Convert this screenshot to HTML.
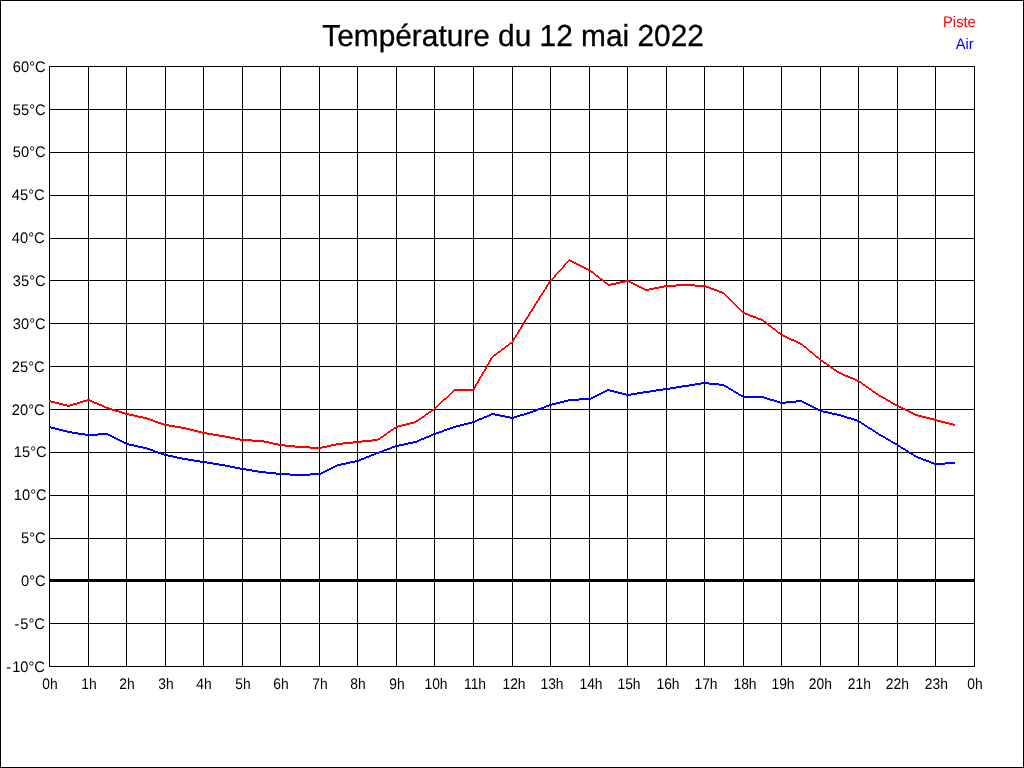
<!DOCTYPE html><html><head><meta charset="utf-8"><title>Température</title><style>html,body{margin:0;padding:0;background:#fff}svg{display:block}text{font-family:"Liberation Sans",Arial,sans-serif;text-rendering:geometricPrecision}</style></head><body>
<svg width="1024" height="768" viewBox="0 0 1024 768">
<rect x="0" y="0" width="1024" height="768" fill="#fff"/>
<g shape-rendering="crispEdges" fill="#000">
<rect x="0" y="0" width="1024" height="1"/><rect x="0" y="767" width="1024" height="1"/><rect x="0" y="0" width="1" height="768"/><rect x="1023" y="0" width="1" height="768"/>
<rect x="49" y="66" width="1" height="601"/>
<rect x="88" y="66" width="1" height="601"/>
<rect x="126" y="66" width="1" height="601"/>
<rect x="165" y="66" width="1" height="601"/>
<rect x="203" y="66" width="1" height="601"/>
<rect x="242" y="66" width="1" height="601"/>
<rect x="280" y="66" width="1" height="601"/>
<rect x="319" y="66" width="1" height="601"/>
<rect x="357" y="66" width="1" height="601"/>
<rect x="396" y="66" width="1" height="601"/>
<rect x="434" y="66" width="1" height="601"/>
<rect x="473" y="66" width="1" height="601"/>
<rect x="512" y="66" width="1" height="601"/>
<rect x="550" y="66" width="1" height="601"/>
<rect x="589" y="66" width="1" height="601"/>
<rect x="627" y="66" width="1" height="601"/>
<rect x="666" y="66" width="1" height="601"/>
<rect x="704" y="66" width="1" height="601"/>
<rect x="743" y="66" width="1" height="601"/>
<rect x="781" y="66" width="1" height="601"/>
<rect x="820" y="66" width="1" height="601"/>
<rect x="858" y="66" width="1" height="601"/>
<rect x="897" y="66" width="1" height="601"/>
<rect x="935" y="66" width="1" height="601"/>
<rect x="974" y="66" width="1" height="601"/>
<rect x="49" y="66" width="926" height="1"/>
<rect x="49" y="109" width="926" height="1"/>
<rect x="49" y="152" width="926" height="1"/>
<rect x="49" y="195" width="926" height="1"/>
<rect x="49" y="238" width="926" height="1"/>
<rect x="49" y="280" width="926" height="1"/>
<rect x="49" y="323" width="926" height="1"/>
<rect x="49" y="366" width="926" height="1"/>
<rect x="49" y="409" width="926" height="1"/>
<rect x="49" y="452" width="926" height="1"/>
<rect x="49" y="495" width="926" height="1"/>
<rect x="49" y="538" width="926" height="1"/>
<rect x="49" y="580" width="926" height="1"/>
<rect x="49" y="623" width="926" height="1"/>
<rect x="49" y="666" width="926" height="1"/>
<rect x="49" y="579" width="926" height="3"/>
</g>
<g shape-rendering="crispEdges">
<path fill="#f00" d="M49 400h2v2h-2zM51 401h4v2h-4zM55 402h4v2h-4zM59 403h4v2h-4zM63 404h4v2h-4zM67 405h3v2h-3zM70 404h3v2h-3zM73 403h4v2h-4zM77 402h3v2h-3zM80 401h3v2h-3zM83 400h4v2h-4zM87 399h3v2h-3zM90 400h2v2h-2zM92 401h2v2h-2zM94 402h3v2h-3zM97 403h2v2h-2zM99 404h3v2h-3zM102 405h2v2h-2zM104 406h2v2h-2zM106 407h3v2h-3zM109 408h3v2h-3zM112 409h3v2h-3zM115 410h4v2h-4zM119 411h3v2h-3zM122 412h3v2h-3zM125 413h4v2h-4zM129 414h5v2h-5zM134 415h4v2h-4zM138 416h5v2h-5zM143 417h4v2h-4zM147 418h3v2h-3zM150 419h3v2h-3zM153 420h2v2h-2zM155 421h3v2h-3zM158 422h3v2h-3zM161 423h3v2h-3zM164 424h5v2h-5zM169 425h6v2h-6zM175 426h6v2h-6zM181 427h5v2h-5zM186 428h4v2h-4zM190 429h4v2h-4zM194 430h4v2h-4zM198 431h4v2h-4zM202 432h5v2h-5zM207 433h6v2h-6zM213 434h6v2h-6zM219 435h6v2h-6zM225 436h5v2h-5zM230 437h5v2h-5zM235 438h5v2h-5zM240 439h12v2h-12zM252 440h12v2h-12zM264 441h5v2h-5zM269 442h4v2h-4zM273 443h5v2h-5zM278 444h7v2h-7zM285 445h10v2h-10zM295 446h15v2h-15zM310 447h12v2h-12zM322 446h5v2h-5zM327 445h4v2h-4zM331 444h5v2h-5zM336 443h7v2h-7zM343 442h10v2h-10zM353 441h9v2h-9zM362 440h10v2h-10zM372 439h6v2h-6zM378 438h2v2h-2zM380 437h1v2h-1zM381 436h2v2h-2zM383 435h1v2h-1zM384 434h2v2h-2zM386 433h1v2h-1zM387 432h1v2h-1zM388 431h2v2h-2zM390 430h1v2h-1zM391 429h2v2h-2zM393 428h1v2h-1zM394 427h2v2h-2zM396 426h2v2h-2zM398 425h4v2h-4zM402 424h4v2h-4zM406 423h4v2h-4zM410 422h4v2h-4zM414 421h2v2h-2zM416 420h2v2h-2zM418 419h1v2h-1zM419 418h2v2h-2zM421 417h1v2h-1zM422 416h2v2h-2zM424 415h1v2h-1zM425 414h1v2h-1zM426 413h2v2h-2zM428 412h1v2h-1zM429 411h2v2h-2zM431 410h1v2h-1zM432 409h2v2h-2zM434 408h1v2h-1zM435 407h1v2h-1zM436 406h1v2h-1zM437 405h1v2h-1zM438 404h1v2h-1zM439 403h1v2h-1zM440 402h1v2h-1zM441 401h1v2h-1zM442 400h1v2h-1zM443 399h1v2h-1zM444 398h2v2h-2zM446 397h1v2h-1zM447 396h1v2h-1zM448 395h1v2h-1zM449 394h1v2h-1zM450 393h1v2h-1zM451 392h1v2h-1zM452 391h1v2h-1zM453 390h1v2h-1zM454 389h19v2h-19zM473 388h1v3h-1zM474 386h1v4h-1zM475 384h1v4h-1zM476 383h1v3h-1zM477 381h1v3h-1zM478 379h1v4h-1zM479 377h1v4h-1zM480 376h1v3h-1zM481 374h1v3h-1zM482 372h1v4h-1zM483 371h1v3h-1zM484 369h1v3h-1zM485 367h1v4h-1zM486 365h1v4h-1zM487 364h1v3h-1zM488 362h1v3h-1zM489 360h1v4h-1zM490 358h1v4h-1zM491 357h1v3h-1zM492 356h1v2h-1zM493 355h1v2h-1zM494 354h2v2h-2zM496 353h1v2h-1zM497 352h1v2h-1zM498 351h2v2h-2zM500 350h1v2h-1zM501 349h1v2h-1zM502 348h2v2h-2zM504 347h1v2h-1zM505 346h1v2h-1zM506 345h2v2h-2zM508 344h1v2h-1zM509 343h1v2h-1zM510 342h2v2h-2zM512 340h1v3h-1zM513 338h1v4h-1zM514 337h1v3h-1zM515 335h1v3h-1zM516 334h1v3h-1zM517 332h1v3h-1zM518 330h1v4h-1zM519 329h1v3h-1zM520 327h1v3h-1zM521 325h1v4h-1zM522 324h1v3h-1zM523 322h1v3h-1zM524 320h1v4h-1zM525 319h1v3h-1zM526 317h1v3h-1zM527 316h1v3h-1zM528 314h1v3h-1zM529 312h1v4h-1zM530 311h1v3h-1zM531 309h1v3h-1zM532 308h1v3h-1zM533 306h1v3h-1zM534 304h1v4h-1zM535 303h1v3h-1zM536 301h1v3h-1zM537 300h1v3h-1zM538 298h1v3h-1zM539 296h1v4h-1zM540 295h1v3h-1zM541 293h1v3h-1zM542 292h1v3h-1zM543 290h1v3h-1zM544 289h1v3h-1zM545 287h1v3h-1zM546 285h1v4h-1zM547 284h1v3h-1zM548 282h1v3h-1zM549 281h1v3h-1zM550 280h1v2h-1zM551 279h1v2h-1zM552 278h1v2h-1zM553 277h1v2h-1zM554 275h1v3h-1zM555 274h1v3h-1zM556 273h1v2h-1zM557 272h1v2h-1zM558 271h1v2h-1zM559 270h1v2h-1zM560 269h1v2h-1zM561 268h1v2h-1zM562 267h1v2h-1zM563 265h1v3h-1zM564 264h1v3h-1zM565 263h1v2h-1zM566 262h1v2h-1zM567 261h1v2h-1zM568 260h1v2h-1zM569 259h1v2h-1zM570 260h2v2h-2zM572 261h2v2h-2zM574 262h2v2h-2zM576 263h2v2h-2zM578 264h2v2h-2zM580 265h2v2h-2zM582 266h2v2h-2zM584 267h2v2h-2zM586 268h2v2h-2zM588 269h2v2h-2zM590 270h1v2h-1zM591 271h2v2h-2zM593 272h1v2h-1zM594 273h1v2h-1zM595 274h1v2h-1zM596 275h2v2h-2zM598 276h1v2h-1zM599 277h1v2h-1zM600 278h2v2h-2zM602 279h1v2h-1zM603 280h1v2h-1zM604 281h1v2h-1zM605 282h2v2h-2zM607 283h1v2h-1zM608 284h3v2h-3zM611 283h5v2h-5zM616 282h4v2h-4zM620 281h5v2h-5zM625 280h4v2h-4zM629 281h2v2h-2zM631 282h2v2h-2zM633 283h2v2h-2zM635 284h2v2h-2zM637 285h2v2h-2zM639 286h2v2h-2zM641 287h2v2h-2zM643 288h2v2h-2zM645 289h4v2h-4zM649 288h5v2h-5zM654 287h5v2h-5zM659 286h5v2h-5zM664 285h12v2h-12zM676 284h19v2h-19zM695 285h11v2h-11zM706 286h3v2h-3zM709 287h2v2h-2zM711 288h3v2h-3zM714 289h3v2h-3zM717 290h2v2h-2zM719 291h3v2h-3zM722 292h2v2h-2zM724 293h1v2h-1zM725 294h1v2h-1zM726 295h1v2h-1zM727 296h1v2h-1zM728 297h1v2h-1zM729 298h1v2h-1zM730 299h1v2h-1zM731 300h1v2h-1zM732 301h1v2h-1zM733 302h1v2h-1zM734 303h1v2h-1zM735 304h1v2h-1zM736 305h1v2h-1zM737 306h1v2h-1zM738 307h1v2h-1zM739 308h1v2h-1zM740 309h1v2h-1zM741 310h1v2h-1zM742 311h1v2h-1zM743 312h2v2h-2zM745 313h3v2h-3zM748 314h2v2h-2zM750 315h3v2h-3zM753 316h3v2h-3zM756 317h2v2h-2zM758 318h3v2h-3zM761 319h2v2h-2zM763 320h1v2h-1zM764 321h2v2h-2zM766 322h1v2h-1zM767 323h1v2h-1zM768 324h1v2h-1zM769 325h2v2h-2zM771 326h1v2h-1zM772 327h1v2h-1zM773 328h2v2h-2zM775 329h1v2h-1zM776 330h1v2h-1zM777 331h1v2h-1zM778 332h2v2h-2zM780 333h1v2h-1zM781 334h2v2h-2zM783 335h2v2h-2zM785 336h2v2h-2zM787 337h2v2h-2zM789 338h2v2h-2zM791 339h3v2h-3zM794 340h2v2h-2zM796 341h2v2h-2zM798 342h2v2h-2zM800 343h2v2h-2zM802 344h1v2h-1zM803 345h1v2h-1zM804 346h2v2h-2zM806 347h1v2h-1zM807 348h1v2h-1zM808 349h1v2h-1zM809 350h1v2h-1zM810 351h2v2h-2zM812 352h1v2h-1zM813 353h1v2h-1zM814 354h1v2h-1zM815 355h1v2h-1zM816 356h2v2h-2zM818 357h1v2h-1zM819 358h1v2h-1zM820 359h1v2h-1zM821 360h2v2h-2zM823 361h1v2h-1zM824 362h2v2h-2zM826 363h1v2h-1zM827 364h2v2h-2zM829 365h1v2h-1zM830 366h1v2h-1zM831 367h2v2h-2zM833 368h1v2h-1zM834 369h2v2h-2zM836 370h1v2h-1zM837 371h2v2h-2zM839 372h2v2h-2zM841 373h2v2h-2zM843 374h2v2h-2zM845 375h3v2h-3zM848 376h2v2h-2zM850 377h3v2h-3zM853 378h2v2h-2zM855 379h2v2h-2zM857 380h2v2h-2zM859 381h2v2h-2zM861 382h1v2h-1zM862 383h1v2h-1zM863 384h2v2h-2zM865 385h1v2h-1zM866 386h2v2h-2zM868 387h1v2h-1zM869 388h2v2h-2zM871 389h1v2h-1zM872 390h1v2h-1zM873 391h2v2h-2zM875 392h1v2h-1zM876 393h2v2h-2zM878 394h1v2h-1zM879 395h2v2h-2zM881 396h2v2h-2zM883 397h2v2h-2zM885 398h1v2h-1zM886 399h2v2h-2zM888 400h2v2h-2zM890 401h1v2h-1zM891 402h2v2h-2zM893 403h2v2h-2zM895 404h2v2h-2zM897 405h2v2h-2zM899 406h2v2h-2zM901 407h2v2h-2zM903 408h2v2h-2zM905 409h2v2h-2zM907 410h2v2h-2zM909 411h2v2h-2zM911 412h2v2h-2zM913 413h2v2h-2zM915 414h3v2h-3zM918 415h4v2h-4zM922 416h4v2h-4zM926 417h4v2h-4zM930 418h4v2h-4zM934 419h3v2h-3zM937 420h4v2h-4zM941 421h4v2h-4zM945 422h4v2h-4zM949 423h4v2h-4zM953 424h2v2h-2z"/>
<path fill="#00f" d="M49 426h2v2h-2zM51 427h4v2h-4zM55 428h4v2h-4zM59 429h4v2h-4zM63 430h4v2h-4zM67 431h5v2h-5zM72 432h6v2h-6zM78 433h7v2h-7zM85 434h13v2h-13zM98 433h10v2h-10zM108 434h2v2h-2zM110 435h2v2h-2zM112 436h2v2h-2zM114 437h2v2h-2zM116 438h2v2h-2zM118 439h2v2h-2zM120 440h2v2h-2zM122 441h2v2h-2zM124 442h2v2h-2zM126 443h3v2h-3zM129 444h5v2h-5zM134 445h4v2h-4zM138 446h5v2h-5zM143 447h4v2h-4zM147 448h3v2h-3zM150 449h3v2h-3zM153 450h2v2h-2zM155 451h3v2h-3zM158 452h3v2h-3zM161 453h3v2h-3zM164 454h4v2h-4zM168 455h5v2h-5zM173 456h4v2h-4zM177 457h5v2h-5zM182 458h6v2h-6zM188 459h6v2h-6zM194 460h6v2h-6zM200 461h7v2h-7zM207 462h6v2h-6zM213 463h6v2h-6zM219 464h6v2h-6zM225 465h5v2h-5zM230 466h5v2h-5zM235 467h5v2h-5zM240 468h6v2h-6zM246 469h6v2h-6zM252 470h6v2h-6zM258 471h8v2h-8zM266 472h10v2h-10zM276 473h14v2h-14zM290 474h20v2h-20zM310 473h11v2h-11zM321 472h2v2h-2zM323 471h2v2h-2zM325 470h2v2h-2zM327 469h2v2h-2zM329 468h2v2h-2zM331 467h2v2h-2zM333 466h2v2h-2zM335 465h2v2h-2zM337 464h4v2h-4zM341 463h5v2h-5zM346 462h4v2h-4zM350 461h5v2h-5zM355 460h4v2h-4zM359 459h2v2h-2zM361 458h3v2h-3zM364 457h2v2h-2zM366 456h3v2h-3zM369 455h2v2h-2zM371 454h3v2h-3zM374 453h2v2h-2zM376 452h3v2h-3zM379 451h3v2h-3zM382 450h2v2h-2zM384 449h3v2h-3zM387 448h3v2h-3zM390 447h2v2h-2zM392 446h3v2h-3zM395 445h4v2h-4zM399 444h5v2h-5zM404 443h4v2h-4zM408 442h5v2h-5zM413 441h4v2h-4zM417 440h2v2h-2zM419 439h2v2h-2zM421 438h3v2h-3zM424 437h2v2h-2zM426 436h3v2h-3zM429 435h2v2h-2zM431 434h2v2h-2zM433 433h3v2h-3zM436 432h3v2h-3zM439 431h3v2h-3zM442 430h2v2h-2zM444 429h3v2h-3zM447 428h3v2h-3zM450 427h3v2h-3zM453 426h3v2h-3zM456 425h4v2h-4zM460 424h4v2h-4zM464 423h4v2h-4zM468 422h4v2h-4zM472 421h3v2h-3zM475 420h2v2h-2zM477 419h2v2h-2zM479 418h3v2h-3zM482 417h2v2h-2zM484 416h3v2h-3zM487 415h2v2h-2zM489 414h2v2h-2zM491 413h4v2h-4zM495 414h5v2h-5zM500 415h5v2h-5zM505 416h5v2h-5zM510 417h4v2h-4zM514 416h3v2h-3zM517 415h3v2h-3zM520 414h4v2h-4zM524 413h3v2h-3zM527 412h3v2h-3zM530 411h3v2h-3zM533 410h3v2h-3zM536 409h2v2h-2zM538 408h3v2h-3zM541 407h3v2h-3zM544 406h2v2h-2zM546 405h3v2h-3zM549 404h3v2h-3zM552 403h4v2h-4zM556 402h4v2h-4zM560 401h4v2h-4zM564 400h4v2h-4zM568 399h11v2h-11zM579 398h12v2h-12zM591 397h2v2h-2zM593 396h2v2h-2zM595 395h2v2h-2zM597 394h2v2h-2zM599 393h2v2h-2zM601 392h2v2h-2zM603 391h2v2h-2zM605 390h2v2h-2zM607 389h3v2h-3zM610 390h4v2h-4zM614 391h4v2h-4zM618 392h4v2h-4zM622 393h4v2h-4zM626 394h5v2h-5zM631 393h6v2h-6zM637 392h6v2h-6zM643 391h7v2h-7zM650 390h6v2h-6zM656 389h7v2h-7zM663 388h7v2h-7zM670 387h6v2h-6zM676 386h6v2h-6zM682 385h7v2h-7zM689 384h6v2h-6zM695 383h6v2h-6zM701 382h8v2h-8zM709 383h10v2h-10zM719 384h5v2h-5zM724 385h2v2h-2zM726 386h2v2h-2zM728 387h1v2h-1zM729 388h2v2h-2zM731 389h2v2h-2zM733 390h1v2h-1zM734 391h2v2h-2zM736 392h2v2h-2zM738 393h1v2h-1zM739 394h2v2h-2zM741 395h2v2h-2zM743 396h21v2h-21zM764 397h3v2h-3zM767 398h3v2h-3zM770 399h4v2h-4zM774 400h3v2h-3zM777 401h3v2h-3zM780 402h6v2h-6zM786 401h10v2h-10zM796 400h6v2h-6zM802 401h2v2h-2zM804 402h2v2h-2zM806 403h2v2h-2zM808 404h2v2h-2zM810 405h2v2h-2zM812 406h2v2h-2zM814 407h2v2h-2zM816 408h2v2h-2zM818 409h2v2h-2zM820 410h3v2h-3zM823 411h5v2h-5zM828 412h4v2h-4zM832 413h5v2h-5zM837 414h4v2h-4zM841 415h3v2h-3zM844 416h3v2h-3zM847 417h4v2h-4zM851 418h3v2h-3zM854 419h3v2h-3zM857 420h2v2h-2zM859 421h2v2h-2zM861 422h1v2h-1zM862 423h2v2h-2zM864 424h1v2h-1zM865 425h2v2h-2zM867 426h1v2h-1zM868 427h2v2h-2zM870 428h2v2h-2zM872 429h1v2h-1zM873 430h2v2h-2zM875 431h1v2h-1zM876 432h2v2h-2zM878 433h1v2h-1zM879 434h2v2h-2zM881 435h2v2h-2zM883 436h2v2h-2zM885 437h1v2h-1zM886 438h2v2h-2zM888 439h2v2h-2zM890 440h1v2h-1zM891 441h2v2h-2zM893 442h2v2h-2zM895 443h2v2h-2zM897 444h1v2h-1zM898 445h2v2h-2zM900 446h1v2h-1zM901 447h2v2h-2zM903 448h2v2h-2zM905 449h1v2h-1zM906 450h2v2h-2zM908 451h1v2h-1zM909 452h2v2h-2zM911 453h2v2h-2zM913 454h1v2h-1zM914 455h2v2h-2zM916 456h2v2h-2zM918 457h3v2h-3zM921 458h2v2h-2zM923 459h3v2h-3zM926 460h3v2h-3zM929 461h2v2h-2zM931 462h3v2h-3zM934 463h11v2h-11zM945 462h10v2h-10z"/>
</g>
<g font-size="14.67" fill="#000">
<text transform="translate(0 71.7) scale(1 1.045)" x="45.6" y="0" text-anchor="end">60°C</text>
<text transform="translate(0 114.7) scale(1 1.045)" x="45.6" y="0" text-anchor="end">55°C</text>
<text transform="translate(0 156.7) scale(1 1.045)" x="45.6" y="0" text-anchor="end">50°C</text>
<text transform="translate(0 199.7) scale(1 1.045)" x="44.6" y="0" text-anchor="end">45°C</text>
<text transform="translate(0 242.7) scale(1 1.045)" x="44.6" y="0" text-anchor="end">40°C</text>
<text transform="translate(0 285.7) scale(1 1.045)" x="45.6" y="0" text-anchor="end">35°C</text>
<text transform="translate(0 328.7) scale(1 1.045)" x="45.6" y="0" text-anchor="end">30°C</text>
<text transform="translate(0 371.7) scale(1 1.045)" x="44.6" y="0" text-anchor="end">25°C</text>
<text transform="translate(0 414.7) scale(1 1.045)" x="44.6" y="0" text-anchor="end">20°C</text>
<text transform="translate(0 456.7) scale(1 1.045)" x="46.6" y="0" text-anchor="end">15°C</text>
<text transform="translate(0 499.7) scale(1 1.045)" x="46.6" y="0" text-anchor="end">10°C</text>
<text transform="translate(0 542.7) scale(1 1.045)" x="45.6" y="0" text-anchor="end">5°C</text>
<text transform="translate(0 585.7) scale(1 1.045)" x="45.6" y="0" text-anchor="end">0°C</text>
<text transform="translate(0 628.7) scale(1 1.045)" x="44.9" y="0" text-anchor="end"><tspan>-</tspan><tspan dx="1">5°C</tspan></text>
<text transform="translate(0 671.7) scale(1 1.045)" x="44.9" y="0" text-anchor="end"><tspan>-</tspan><tspan dx="1">10°C</tspan></text>
<text transform="translate(49.9 689) scale(0.945 1.045)" x="0" y="0" text-anchor="middle">0h</text>
<text transform="translate(88.9 689) scale(0.945 1.045)" x="0" y="0" text-anchor="middle">1h</text>
<text transform="translate(126.9 689) scale(0.945 1.045)" x="0" y="0" text-anchor="middle">2h</text>
<text transform="translate(165.9 689) scale(0.945 1.045)" x="0" y="0" text-anchor="middle">3h</text>
<text transform="translate(203.9 689) scale(0.945 1.045)" x="0" y="0" text-anchor="middle">4h</text>
<text transform="translate(242.9 689) scale(0.945 1.045)" x="0" y="0" text-anchor="middle">5h</text>
<text transform="translate(280.9 689) scale(0.945 1.045)" x="0" y="0" text-anchor="middle">6h</text>
<text transform="translate(319.9 689) scale(0.945 1.045)" x="0" y="0" text-anchor="middle">7h</text>
<text transform="translate(357.9 689) scale(0.945 1.045)" x="0" y="0" text-anchor="middle">8h</text>
<text transform="translate(396.9 689) scale(0.945 1.045)" x="0" y="0" text-anchor="middle">9h</text>
<text transform="translate(436.0 689) scale(0.945 1.045)" x="0" y="0" text-anchor="middle">10h</text>
<text transform="translate(475.0 689) scale(0.945 1.045)" x="0" y="0" text-anchor="middle">11h</text>
<text transform="translate(514.0 689) scale(0.945 1.045)" x="0" y="0" text-anchor="middle">12h</text>
<text transform="translate(552.0 689) scale(0.945 1.045)" x="0" y="0" text-anchor="middle">13h</text>
<text transform="translate(591.0 689) scale(0.945 1.045)" x="0" y="0" text-anchor="middle">14h</text>
<text transform="translate(629.0 689) scale(0.945 1.045)" x="0" y="0" text-anchor="middle">15h</text>
<text transform="translate(668.0 689) scale(0.945 1.045)" x="0" y="0" text-anchor="middle">16h</text>
<text transform="translate(706.0 689) scale(0.945 1.045)" x="0" y="0" text-anchor="middle">17h</text>
<text transform="translate(745.0 689) scale(0.945 1.045)" x="0" y="0" text-anchor="middle">18h</text>
<text transform="translate(783.0 689) scale(0.945 1.045)" x="0" y="0" text-anchor="middle">19h</text>
<text transform="translate(820.4 689) scale(0.945 1.045)" x="0" y="0" text-anchor="middle">20h</text>
<text transform="translate(859.3 689) scale(0.945 1.045)" x="0" y="0" text-anchor="middle">21h</text>
<text transform="translate(897.4 689) scale(0.945 1.045)" x="0" y="0" text-anchor="middle">22h</text>
<text transform="translate(936.3 689) scale(0.945 1.045)" x="0" y="0" text-anchor="middle">23h</text>
<text transform="translate(974.9 689) scale(0.945 1.045)" x="0" y="0" text-anchor="middle">0h</text>
</g>
<text transform="translate(0 45.55) scale(1 1.02)" x="513.1" y="0" font-size="29.85" text-anchor="middle" fill="#000" stroke="#000" stroke-width="0.3">Température du 12 mai 2022</text>
<text transform="translate(0 27) scale(1 1.045)" x="975.7" y="0" font-size="14.67" text-anchor="end" fill="#f00">Piste</text>
<text transform="translate(0 49) scale(1 1.045)" x="973.6" y="0" font-size="14.67" text-anchor="end" fill="#00f">Air</text>
</svg></body></html>
